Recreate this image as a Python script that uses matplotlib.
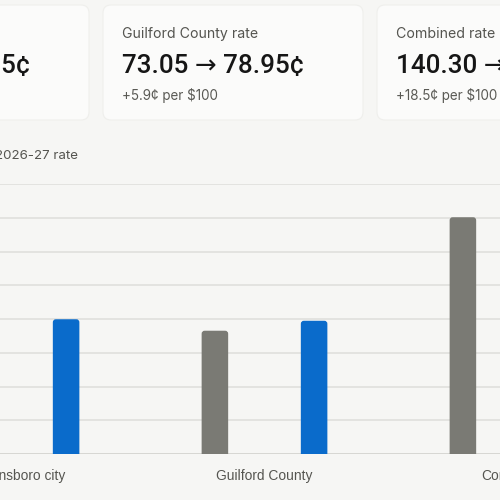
import matplotlib.pyplot as plt
from matplotlib.patches import FancyBboxPatch
import numpy as np

# tax rates in cents per $100 of value
areas = ['Greensboro city', 'Guilford County', 'Combined']
current = [67.25, 73.05, 140.30]
proposed = [79.85, 78.95, 158.80]
card_titles = ['Greensboro city rate', 'Guilford County rate', 'Combined rate']
card_main = ['67.25 \u2192 79.85\u00a2', '73.05 \u2192 78.95\u00a2', '140.30 \u2192 158.80\u00a2']
card_sub = ['+12.6\u00a2 per $100', '+5.9\u00a2 per $100', '+18.5\u00a2 per $100']

W = H = 500
bg = '#f6f6f4'
card_bg = '#fbfbfa'
blue = '#0a6bcb'
gray = '#7a7a74'

fig = plt.figure(figsize=(5, 5), dpi=100, facecolor=bg)

def fx(px):
    return px / W

def fy(py):
    return 1 - py / H

# summary cards (the row is wider than the picture, edges are cut)
card_left = [-171, 103, 377]
card_w = 260
for i in range(3):
    x0 = card_left[i]
    card = FancyBboxPatch((fx(x0), fy(120)), fx(card_w), fx(115),
                          boxstyle='round,pad=0,rounding_size=0.016',
                          transform=fig.transFigure, facecolor=card_bg,
                          edgecolor='#efefec', linewidth=0.8, zorder=0)
    fig.patches.append(card)
    tx = fx(x0 + 19)
    fig.text(tx, fy(38), card_titles[i], fontsize=10.2, color='#555550',
             family=['Inter', 'DejaVu Sans'], va='baseline')
    fig.text(tx, fy(73), card_main[i], fontsize=18.7, color='#161616',
             family=['Roboto', 'DejaVu Sans'], weight='medium', va='baseline')
    fig.text(tx, fy(100), card_sub[i], fontsize=9.7, color='#5a5a55',
             family=['Inter', 'DejaVu Sans'], va='baseline')

fig.text(fx(78), fy(159), 'Proposed 2026-27 rate', fontsize=9.6, color='#555550',
         family=['Inter', 'DejaVu Sans'], va='baseline', ha='right')

# chart: axes is wider than the picture too
ax = fig.add_axes([fx(-107.5), fy(454), fx(744), (454 - 184) / H])
ax.set_facecolor('none')
ax.set_xlim(-0.5, 2.5)
ax.set_ylim(0, 160)
ax.set_yticks(np.arange(0, 161, 20))
ax.yaxis.grid(True, color='#e2e2de', linewidth=1.3)
ax.set_axisbelow(True)
for s in ax.spines.values():
    s.set_visible(False)
ax.axhline(0, color='#d6d6d2', linewidth=1.3, zorder=1)

x = np.arange(len(areas))
bw = 0.107
aspect = (744 / 3) / (270 / 160)
bars = list(ax.bar(x - 0.2, current, bw, color=gray)) + \
       list(ax.bar(x + 0.2, proposed, bw, color=blue))
for b in bars:
    b.set_visible(False)
    r = 3 / 248
    ry = r * aspect
    p = FancyBboxPatch((b.get_x(), -ry * 2), b.get_width(), b.get_height() + ry * 2,
                       boxstyle='round,pad=0,rounding_size=%f' % r,
                       mutation_aspect=aspect, facecolor=b.get_facecolor(),
                       edgecolor='none', zorder=2)
    ax.add_patch(p)

ax.set_xticks(x)
ax.set_xticklabels(areas, fontsize=9.9, color='#555550', family='Liberation Sans')
ax.tick_params(axis='x', length=0, pad=10.5)
ax.tick_params(axis='y', length=0, labelleft=False)

fig.savefig('out.png', dpi=100, facecolor=bg)
